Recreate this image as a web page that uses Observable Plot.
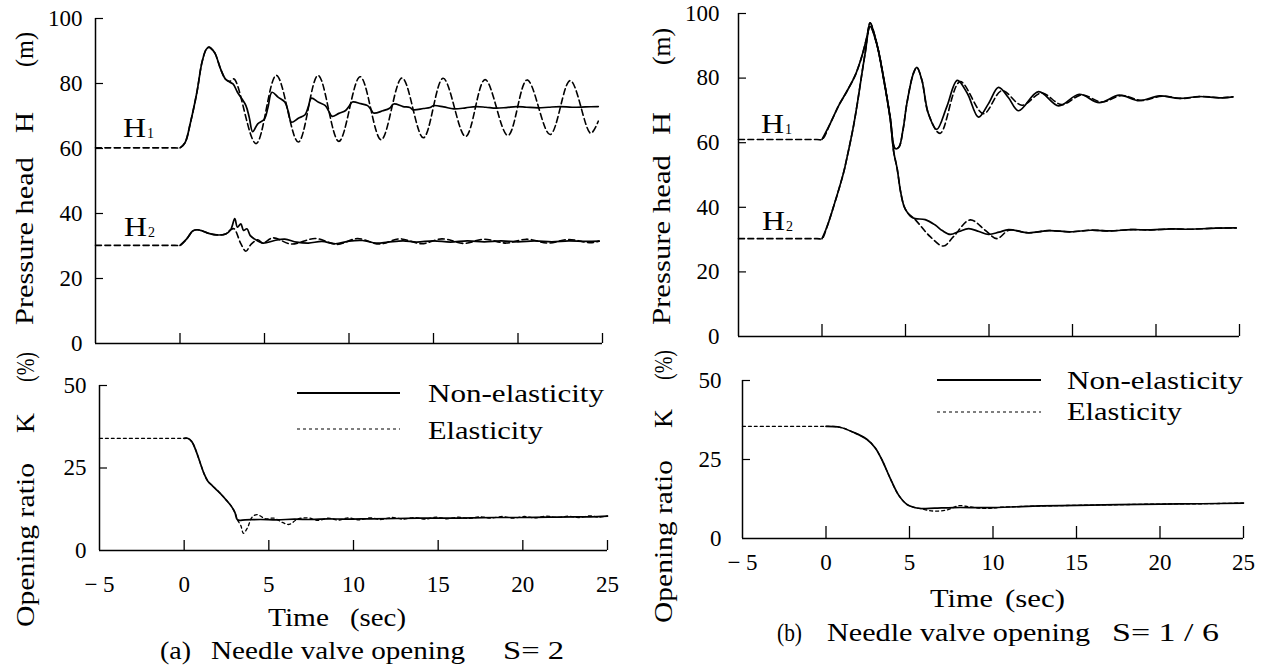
<!DOCTYPE html>
<html><head><meta charset="utf-8">
<script src="https://cdn.jsdelivr.net/npm/d3@7"></script>
<script src="https://cdn.jsdelivr.net/npm/@observablehq/plot@0.6"></script>
<style>
body{margin:0;background:#fff;}
#root{position:relative;width:1273px;height:668px;overflow:hidden;background:#fff;}
.p{position:absolute;}
#overlay{position:absolute;left:0;top:0;pointer-events:none;}
svg, svg text, svg tspan { font-family: "Liberation Serif", "Times New Roman", "DejaVu Serif", serif !important; }
</style></head><body><div id="root"></div>
<script>
// ---------- tick values ----------
const timeTicks = [0, 5, 10, 15, 20, 25];
const timeLabels = [-5, 0, 5, 10, 15, 20, 25];
const headTicks = [0, 20, 40, 60, 80, 100];
const ratioTicks = [0, 25, 50];

// ---------- (a) S = 2 ----------
const aH1Elastic = [[-5,60.2],[-0.3,60.2],[0,60.2],[0.3,61.8],[0.62,68],[1.0,77.3],[1.3,86.5],[1.55,90.5],[1.72,91.2],[1.95,90.2],[2.1,89],[2.4,84.5],[2.7,81.3],[2.95,80.7],[3.2,81.4],[4.5,61.5],[5.7,82.5],[7.0,62],[8.17,82.5],[9.4,62.2],[10.66,82.1],[11.9,62.7],[13.14,81.7],[14.4,63.3],[15.57,81.6],[16.9,63.7],[18.05,81.2],[19.4,64],[20.54,81.1],[21.9,64.3],[23.09,80.9],[24.3,64.7],[24.75,68.4]];
const aH1Rigid = [[0,60.2],[0.3,61.8],[0.62,68],[1.0,77.3],[1.3,86.5],[1.55,90.5],[1.72,91.2],[1.95,90.2],[2.1,89],[2.4,84.5],[2.7,81.3],[2.95,80.4],[3.15,79.8],[3.4,77.3],[3.9,73.2],[4.1,69.5],[4.3,65.2],[4.6,67.6],[5.0,69.1],[5.2,72.5],[5.44,77.3],[5.8,75.8],[6.2,74.3],[6.4,71.5],[6.6,68.1],[7.0,69.3],[7.4,70.4],[7.6,73],[7.77,75.5],[8.2,74.2],[8.6,73.2],[8.8,71.5],[9.0,69.9],[9.4,70.8],[9.8,71.7],[10.0,73],[10.2,74.3],[10.7,73.8],[11.1,73.2],[11.3,72.0],[11.45,70.9],[12.0,71.6],[12.4,72.4],[12.65,73.7],[13.2,72.9],[13.6,72.6],[13.8,71.9],[14.4,72.3],[14.8,72.6],[15.0,73.2],[15.6,72.8],[16.2,72.2],[16.9,72.5],[17.5,72.9],[18.1,72.7],[18.7,72.4],[19.3,72.6],[19.9,72.9],[20.5,72.7],[21.2,72.5],[21.8,72.7],[22.5,72.9],[23.2,72.7],[24.0,72.8],[24.75,72.9]];
const aH2Elastic = [[-5,30.2],[-0.3,30.2],[0,30.2],[0.4,32.2],[0.75,34.6],[1.0,35.0],[1.3,34.7],[1.7,33.9],[2.2,33.4],[2.7,33.7],[3.0,35.0],[3.2,35.3],[3.6,30.7],[3.9,28.4],[4.2,30.5],[4.6,31.9],[4.9,30.9],[5.5,32.5],[6.6,30.6],[8.0,32.3],[9.3,30.5],[10.5,32.3],[11.8,30.6],[13.0,32.2],[14.3,30.7],[15.5,32.2],[16.8,30.8],[18.0,32.1],[19.3,30.9],[20.5,32.1],[21.8,30.9],[23.0,32.0],[24.3,31.0],[24.8,31.5]];
const aH2Rigid = [[0,30.2],[0.4,32.2],[0.75,34.6],[1.0,35.0],[1.3,34.7],[1.7,33.9],[2.2,33.4],[2.7,33.7],[3.0,35.0],[3.24,38.4],[3.4,35.8],[3.6,36.8],[3.76,34.8],[3.96,35.3],[4.16,33.2],[4.4,32.2],[4.9,30.9],[5.6,31.7],[6.2,32.1],[6.9,31.2],[7.6,30.9],[8.4,31.4],[9.2,30.7],[10.0,31.5],[10.8,31.7],[11.6,30.9],[12.3,31.2],[13.2,31.6],[14.0,31.2],[15.0,31.6],[16.0,31.2],[17.0,31.6],[18.0,31.3],[19.0,31.6],[20.0,31.3],[21.0,31.6],[22.0,31.3],[23.0,31.6],[24.0,31.4],[24.8,31.5]];
const aKElastic = [[-5,34],[-0.3,34],[0,34],[0.2,34],[0.45,33],[0.7,30.2],[0.95,26.5],[1.18,23.2],[1.4,21],[1.67,19.6],[2.0,18],[2.26,16.6],[2.5,15.2],[2.76,13.6],[3.0,11.5],[3.15,9.3],[3.35,7.5],[3.5,5.2],[3.75,7],[4.0,10],[4.3,10.9],[4.8,9.6],[5.3,9.8],[5.8,8.5],[6.2,7.9],[6.7,9.5],[7.3,9.9],[7.9,9.1],[8.5,9.8],[9.1,9.2],[9.7,9.9],[10.3,9.3],[11.0,9.9],[11.6,9.4],[12.3,10.0],[12.9,9.5],[13.6,10.0],[14.2,9.5],[14.9,10.1],[15.5,9.6],[16.2,10.1],[16.8,9.7],[17.5,10.2],[18.1,9.8],[18.8,10.3],[19.4,9.8],[20.1,10.3],[20.7,9.9],[21.4,10.4],[22.0,10.0],[22.7,10.4],[23.3,10.0],[24.0,10.5],[24.5,10.1],[25,10.5]];
const aKRigid = [[0,34],[0.2,34],[0.45,33],[0.7,30.2],[0.95,26.5],[1.18,23.2],[1.4,21],[1.67,19.6],[2.0,18],[2.26,16.6],[2.5,15.2],[2.76,13.6],[3.0,11.5],[3.15,9.3],[3.6,9.3],[4.5,9.4],[5.5,9.3],[6.5,9.5],[7.5,9.4],[8.5,9.6],[9.5,9.5],[11,9.6],[12.5,9.7],[14,9.8],[15.5,9.8],[17,9.9],[18.5,10.0],[20,10.0],[21.5,10.1],[23,10.2],[24,10.2],[25,10.4]];

// ---------- (b) S = 1/6 ----------
const bH1Elastic = [[-5,61],[-0.3,61],[0,61],[0.5,66],[1.0,71.5],[1.5,76],[2.0,81],[2.4,87],[2.7,93],[2.88,97.1],[3.28,90.7],[3.68,80.4],[4.08,68],[4.38,58.2],[4.6,58.6],[4.85,64],[5.08,72.1],[5.47,81.4],[5.68,83.3],[5.98,79.4],[6.37,69],[7.07,62.9],[8.27,78.9],[9.67,69.0],[10.77,76.1],[11.97,71.6],[13.15,75.4],[14.35,71.8],[15.55,74.8],[16.75,72.6],[17.95,74.6],[19.15,73.1],[20.35,74.4],[21.55,73.7],[22.75,74.3],[23.9,73.9],[24.6,74.2]];
const bH1Rigid = [[0,61],[0.5,66],[1.0,71.5],[1.5,76],[2.0,81],[2.4,87],[2.7,93],[2.88,97.1],[3.28,90.7],[3.68,80.4],[4.08,68],[4.38,58.2],[4.6,58.6],[4.85,64],[5.08,72.1],[5.47,81.4],[5.68,83.3],[5.98,79.4],[6.37,69],[6.87,64.1],[7.47,71.1],[8.1,79.3],[8.7,75.3],[9.37,67.9],[9.97,72.1],[10.57,77.1],[11.17,73.9],[11.77,69.9],[12.97,75.8],[14.17,71.4],[15.4,75.0],[16.6,72.4],[17.8,74.7],[19.0,73.0],[20.2,74.5],[21.4,73.7],[22.6,74.3],[23.8,73.9],[24.6,74.2]];
const bH2Elastic = [[-5,30.3],[-0.3,30.3],[0,30.3],[0.3,34],[0.68,40],[1.28,50.5],[1.48,55],[1.88,65],[2.08,71],[2.58,87.6],[2.88,96],[3.28,90.5],[3.68,80],[4.08,67.5],[4.3,57],[4.5,52],[4.7,45],[4.9,40.5],[5.1,38.5],[5.58,36.2],[6.48,30.9],[7.27,28],[7.87,30.9],[8.87,36.1],[9.77,32.9],[10.47,30.3],[11.2,32.9],[12.37,32.1],[13.6,32.8],[14.87,32.4],[16.1,32.9],[17.3,32.7],[18.5,33.1],[19.7,33.0],[20.9,33.3],[22.1,33.2],[23.3,33.5],[24.8,33.6]];
const bH2Rigid = [[0,30.3],[0.3,34],[0.68,40],[1.28,50.5],[1.48,55],[1.88,65],[2.08,71],[2.58,87.6],[2.88,96],[3.28,90.5],[3.68,80],[4.08,67.5],[4.3,57],[4.5,52],[4.7,45],[4.9,40.5],[5.1,38.5],[5.3,37.2],[5.58,36.5],[6.18,36.2],[6.78,34.5],[7.2,32.8],[7.68,31.6],[8.2,32.5],[8.78,33.4],[9.4,32.5],[9.97,31.6],[10.6,32.3],[11.17,33.1],[12.37,32.1],[13.6,32.8],[14.87,32.4],[16.1,32.9],[17.3,32.7],[18.5,33.1],[19.7,33.0],[20.9,33.3],[22.1,33.2],[23.3,33.5],[24.8,33.6]];
const bKElastic = [[-5,35.5],[-0.3,35.5],[0,35.5],[0.84,35.2],[1.64,33.6],[2.44,31.4],[2.94,28.7],[3.34,25],[3.84,19.1],[4.34,13.8],[4.84,10.8],[5.24,9.9],[5.64,9.5],[6.4,8.7],[7.2,9.0],[8.0,10.4],[8.6,10.0],[9.6,9.5],[10.5,9.9],[12.9,10.3],[15,10.5],[17.5,10.7],[20,10.9],[22.5,11.0],[25,11.2]];
const bKRigid = [[0,35.5],[0.84,35.2],[1.64,33.6],[2.44,31.4],[2.94,28.7],[3.34,25],[3.84,19.1],[4.34,13.8],[4.84,10.8],[5.24,9.9],[5.64,9.5],[6.5,9.6],[7.64,9.8],[10,9.8],[12.9,10.3],[15,10.5],[17.5,10.7],[20,10.9],[22.5,11.0],[25,11.2]];

// ---------- texts ----------
const legendLabels = ["Non-elasticity", "Elasticity"];
const captions = ["(a)", "Needle valve opening", "S= 2", "(b)", "Needle valve opening", "S= 1 / 6"];

const FONT = '"Liberation Serif", "Times New Roman", "DejaVu Serif", serif';
const fmt = d => d < 0 ? "\u2212 " + Math.abs(d) : String(d);

function makePlot(cfg) {
  const innerW = cfg.width - cfg.ml - cfg.mr;
  const innerH = cfg.height - cfg.mt - cfg.mb;
  const marks = [
    Plot.ruleX([-5], {strokeWidth: 1.5}),
    Plot.ruleY([cfg.yDomain[0]], {strokeWidth: 1.5}),
    Plot.tickY(cfg.yTicks.filter(v => v > cfg.yDomain[0]), {y: d => d, insetRight: innerW - 8, strokeWidth: 1.2}),
    Plot.tickX(timeTicks, {x: d => d, insetTop: innerH - cfg.xTickLen, strokeWidth: 1.3}),
    Plot.axisY({ticks: cfg.yTicks, tickSize: 0, tickPadding: cfg.yPad, label: null, fontSize: 23, fontFamily: FONT})
  ];
  if (cfg.xLabels) {
    marks.push(Plot.axisX({ticks: timeLabels, tickSize: 0, tickPadding: cfg.xPad, tickFormat: fmt, label: null, fontSize: 23, fontFamily: FONT}));
  }
  for (const s of cfg.dashed) {
    marks.push(Plot.line(s, {x: d => d[0], y: d => d[1], curve: "catmull-rom", stroke: "black", strokeWidth: cfg.dashW, strokeDasharray: cfg.dash}));
  }
  for (const s of cfg.solid) {
    marks.push(Plot.line(s, {x: d => d[0], y: d => d[1], curve: "catmull-rom", stroke: "black", strokeWidth: 1.7}));
  }
  const svg = Plot.plot({
    width: cfg.width, height: cfg.height,
    marginLeft: cfg.ml, marginRight: cfg.mr, marginTop: cfg.mt, marginBottom: cfg.mb,
    x: {domain: [-5, 25], label: null, ...(cfg.xLabels ? {} : {axis: null})},
    y: {domain: cfg.yDomain, label: null},
    style: {fontFamily: FONT, fontSize: "23px", background: "transparent", color: "black", overflow: "visible"},
    marks
  });
  svg.classList.add("p");
  svg.style.left = cfg.left + "px";
  svg.style.top = cfg.top + "px";
  document.getElementById("root").appendChild(svg);
}

makePlot({left: 0, top: 0, width: 625, height: 350, ml: 95, mr: 23, mt: 18, mb: 7,
  yDomain: [0, 100], yTicks: headTicks, yPad: 13, xTickLen: 10, xLabels: false,
  dashed: [aH1Elastic, aH2Elastic], solid: [aH1Rigid, aH2Rigid], dash: "6,3.5", dashW: 1.6});
makePlot({left: 0, top: 365, width: 625, height: 230, ml: 99, mr: 18, mt: 20, mb: 45,
  yDomain: [0, 50], yTicks: ratioTicks, yPad: 13, xTickLen: 10, xLabels: true, xPad: 25,
  dashed: [aKElastic], solid: [aKRigid], dash: "3,3", dashW: 1.3});
makePlot({left: 640, top: 2, width: 625, height: 345, ml: 98, mr: 26, mt: 11, mb: 11,
  yDomain: [0, 100], yTicks: headTicks, yPad: 19, xTickLen: 12, xLabels: false,
  dashed: [bH1Elastic, bH2Elastic], solid: [bH1Rigid, bH2Rigid], dash: "6,3.5", dashW: 1.6});
makePlot({left: 640, top: 360, width: 625, height: 228, ml: 102, mr: 22, mt: 20, mb: 50,
  yDomain: [0, 50], yTicks: ratioTicks, yPad: 21, xTickLen: 12, xLabels: true, xPad: 15,
  dashed: [bKElastic], solid: [bKRigid], dash: "3,3", dashW: 1.3});

// ---------- overlay text ----------
const ov = d3.select("#root").append("svg").attr("id", "overlay")
  .attr("width", 1273).attr("height", 668)
  .attr("font-family", FONT).attr("fill", "black");

function txt(x, y, s, len, size, rot) {
  const t = ov.append("text").attr("x", x).attr("y", y).attr("font-size", size)
    .attr("font-family", FONT).text(s);
  if (len) t.attr("textLength", len).attr("lengthAdjust", "spacingAndGlyphs");
  if (rot) t.attr("transform", `rotate(-90 ${x} ${y})`);
  return t;
}
function hLabel(x, y, sub) {
  txt(x, y, "H", 23, 28);
  txt(x + 24, y + 1, sub, null, 14);
}
function legend(x1, x2, xt, ySolid, yDash, ytS, ytD, lenS, lenD) {
  ov.append("line").attr("x1", x1).attr("x2", x2).attr("y1", ySolid).attr("y2", ySolid)
    .attr("stroke", "black").attr("stroke-width", 1.8);
  ov.append("line").attr("x1", x1).attr("x2", x2).attr("y1", yDash).attr("y2", yDash)
    .attr("stroke", "black").attr("stroke-width", 1.2).attr("stroke-dasharray", "3,3");
  txt(xt, ytS, legendLabels[0], lenS, 26);
  txt(xt, ytD, legendLabels[1], lenD, 26);
}

// (a)
txt(33, 325, "Pressure head", 168, 25, true);
txt(33, 133, "H", 21, 25, true);
txt(33, 67, "(m)", 35, 25, true);
txt(34, 627, "Opening ratio", 164, 25, true);
txt(34, 433, "K", 20, 25, true);
txt(34, 382, "(%)", 30, 25, true);
hLabel(123, 137, "1");
hLabel(124, 236, "2");
legend(297, 400, 428, 393, 429, 402, 439, 176, 115);
txt(268, 626, "Time", 61, 26);
txt(350, 626, "(sec)", 56, 26);
txt(160, 659, captions[0], 31, 26);
txt(211, 659, captions[1], 254, 26);
txt(503, 659, captions[2], 61, 26);

// (b)
txt(670, 325, "Pressure head", 170, 25, true);
txt(670, 135, "H", 23, 25, true);
txt(670, 65, "(m)", 37, 25, true);
txt(672, 623, "Opening ratio", 163, 25, true);
txt(672, 428, "K", 19, 25, true);
txt(672, 380, "(%)", 30, 25, true);
hLabel(761, 133, "1");
hLabel(762, 230, "2");
legend(937, 1041, 1067, 380, 412, 389, 420, 176, 115);
txt(930, 607, "Time", 63, 26);
txt(1005, 607, "(sec)", 60, 26);
txt(777, 641, captions[3], 25, 26);
txt(827, 641, captions[4], 263, 26);
txt(1112, 641, captions[5], 107, 26);
</script>
</body></html>
